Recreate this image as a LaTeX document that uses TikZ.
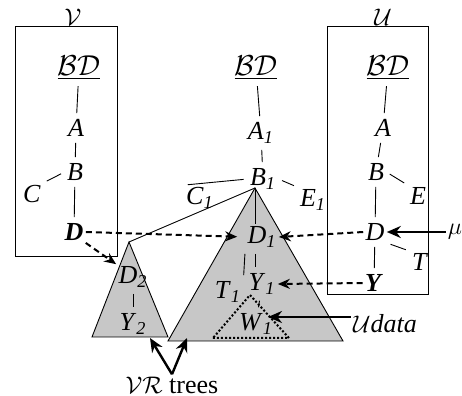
\documentclass[tikz,border=0pt]{standalone}
\usepackage{fontspec}
\setmainfont{Liberation Serif}
\usetikzlibrary{arrows.meta}
\newcommand\sub[2]{\textit{#1}\textsubscript{\textit{#2}}}

\begin{document}
\begin{tikzpicture}[
 x=.5pt,y=-.5pt,
 line/.style={line width=.45pt},
 edge/.style={line width=.45pt,shorten <=2pt,shorten >=2pt},
 lab/.style={inner sep=1pt,font=\fontsize{13}{15}\selectfont},
 root/.style={inner sep=1pt,font=\fontsize{15}{17}\selectfont},
 tri/.style={fill=black!22,draw=black,line width=.45pt},
 link/.style={dash pattern=on 3pt off 2pt,line width=1pt,-{Stealth[length=6pt,width=5pt]}},
 pointer/.style={line width=1.2pt,-{Stealth[length=7pt,width=6pt]}}]
 \useasboundingbox (0,0) rectangle (462,396);
 % Tree of V inside its box.
 \draw[line] (15,26) rectangle (117,256);
 \node[lab,inner sep=0pt] (vname) at (73,17) {$\mathcal{V}$};
 \node[root] (bdv) at (79,68) {$\underline{\mathcal{BD}}$};
 \node[lab] (av) at (76,128) {\textit{A}};
 \node[lab] (bv) at (75,172) {\textit{B}};
 \node[lab] (cv) at (32,194) {\textit{C}};
 \node[lab] (dv) at (74,232) {\textbf{\textit{D}}};
 \draw[edge] (bdv) -- (av);
 \draw[edge] (av) -- (bv);
 \draw[edge] (bv.west) -- (cv.north east);
 \draw[edge] (bv) -- (dv);
 % Tree of U inside its box.
 \draw[line] (327,26) rectangle (428,294);
 \node[lab,inner sep=0pt] (uname) at (383,17) {$\mathcal{U}$};
 \node[root] (bdu) at (388,68) {$\underline{\mathcal{BD}}$};
 \node[lab] (au) at (383,128) {\textit{A}};
 \node[lab] (bu) at (376,172) {\textit{B}};
 \node[lab] (eu) at (418,196) {\textit{E}};
 \node[lab] (du) at (375,232) {\textit{D}};
 \node[lab] (tu) at (420,262) {\textit{T}};
 \node[lab] (yu) at (374,283) {\textbf{\textit{Y}}};
 \node[lab] (mu) at (455,232) {$\mu$};
 \draw[edge] (bdu) -- (au);
 \draw[edge] (au) -- (bu);
 \draw[edge] (bu.east) -- (eu.north west);
 \draw[edge] (bu) -- (du);
 \draw[edge] (du.south east) -- (tu.north west);
 \draw[edge] (du) -- (yu);
 % The two VR trees.
 \coordinate (ba) at (255,188); \coordinate (sa) at (129,242);
 \draw[tri] (168,341) -- (343,341) -- (ba) -- cycle;
 \draw[tri] (92,337) -- (168,337) -- (sa) -- cycle;
 \draw[line width=1pt,dash pattern=on 1pt off 1pt] (213,338) -- (289,338) -- (250,295) -- cycle;
 % Merged tree in the middle.
 \node[root] (bdm) at (256,68) {$\underline{\mathcal{BD}}$};
 \node[lab] (am) at (261,133) {\sub{A}{1}};
 \node[lab] (bm) at (263,179) {\sub{B}{1}};
 \node[lab] (cm) at (200,198) {\sub{C}{1}};
 \node[lab] (em) at (313,200) {\sub{E}{1}};
 \node[lab] (d1) at (262,237) {\sub{D}{1}};
 \node[lab] (y1) at (262,284) {\sub{Y}{1}};
 \node[lab] (t1) at (228,292) {\sub{T}{1}};
 \node[lab] (w1) at (256,324) {\sub{W}{1}};
 \node[lab] (d2) at (133,277) {\sub{D}{2}};
 \node[lab] (y2) at (133,324) {\sub{Y}{2}};
 \draw[edge] (bdm) -- (am);
 \draw[edge] (am) -- (bm);
 \draw[edge] (bm.west) -- (cm.north west);
 \draw[edge] (bm.east) -- (em.north west);
 \draw[line] (ba) -- (sa);
 \draw[line] (ba) -- (ba |- d1.north);
 \draw[edge] (d1.south -| ba) -- (y1.north -| ba);
 \draw[edge] (d1.south west) -- (t1.north east);
 \draw[edge] (y1) -- (w1);
 \draw[edge] (d2) -- (y2);
 % Links between the trees.
 \draw[link,shorten >=4pt] (dv.east) -- (d1.west);
 \draw[link] (du.west) -- (d1.east);
 \draw[link] (yu.west) -- (y1.east);
 \draw[link] (dv.south east) -- (d2.north west);
 % Labels with arrows.
 \coordinate (wtip) at (268,317);
 \coordinate (l1) at (150,338); \coordinate (l2) at (187,338);
 \node[lab] (udata) at (385,324) {$\mathcal{U}$\textit{data}};
 \node[lab] (vr) at (172,385) {$\mathcal{VR}$ trees};
 \draw[pointer] (mu.west) -- (du.east);
 \draw[pointer] (udata.west |- wtip) -- (wtip);
 \draw[pointer] (vr.north) -- (l1);
 \draw[pointer] (vr.north) -- (l2);
\end{tikzpicture}
\end{document}
